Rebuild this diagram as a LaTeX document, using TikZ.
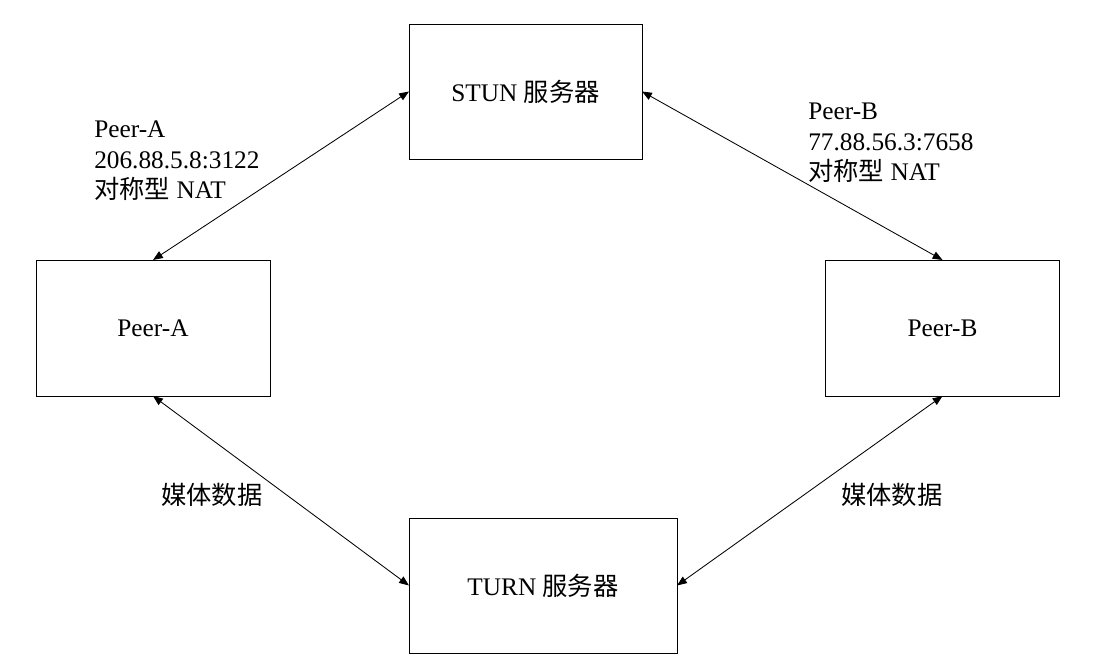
\documentclass[tikz,border=0pt]{standalone}
\usepackage{fontspec}
\setmainfont{Liberation Serif}
\newfontfamily\cjk{Noto Sans CJK SC}
\usetikzlibrary{arrows.meta}
\begin{document}
\begin{tikzpicture}[
x=0.025cm, y=-0.025cm,
every node/.style={font=\fontsize{18}{22}\selectfont},
box/.style={rectangle, draw, line width=0.6pt, inner sep=0pt, outer sep=0pt, minimum height=3.375cm},
server/.style={box, minimum width=5.825cm},
peer/.style={box, minimum width=5.85cm, minimum height=3.4cm},
link/.style={{Triangle[length=7pt,width=5.5pt]}-{Triangle[length=7pt,width=5.5pt]}, line width=0.6pt},
note/.style={align=left, inner sep=0pt, anchor=base west}
]
\useasboundingbox (0,0) rectangle (1100,669);
\node[server] (stun) at (525.5,91.5) {STUN {\cjk 服务器}};
\node[server, minimum width=6.7cm] (turn) at (543,585.5) {TURN {\cjk 服务器}};
\node[peer] (pa) at (153,328) {Peer-A};
\node[peer] (pb) at (942.5,328) {Peer-B};
\draw[link] (pa.north) -- (stun.west);
\draw[link] (stun.east) -- (pb.north);
\draw[link] (pa.south) -- (turn.west);
\draw[link] (pb.south) -- (turn.east);
\node[note] (pa note) at (94,199) {Peer-A\\206.88.5.8:3122\\{\cjk 对称型} NAT};
\node[note] (pb note) at (808,181) {Peer-B\\77.88.56.3:7658\\{\cjk 对称型} NAT};
\node[anchor=west, inner sep=0pt] (media a) at (161,495) {\cjk 媒体数据};
\node[anchor=west, inner sep=0pt] (media b) at (841,495) {\cjk 媒体数据};
\end{tikzpicture}
\end{document}
